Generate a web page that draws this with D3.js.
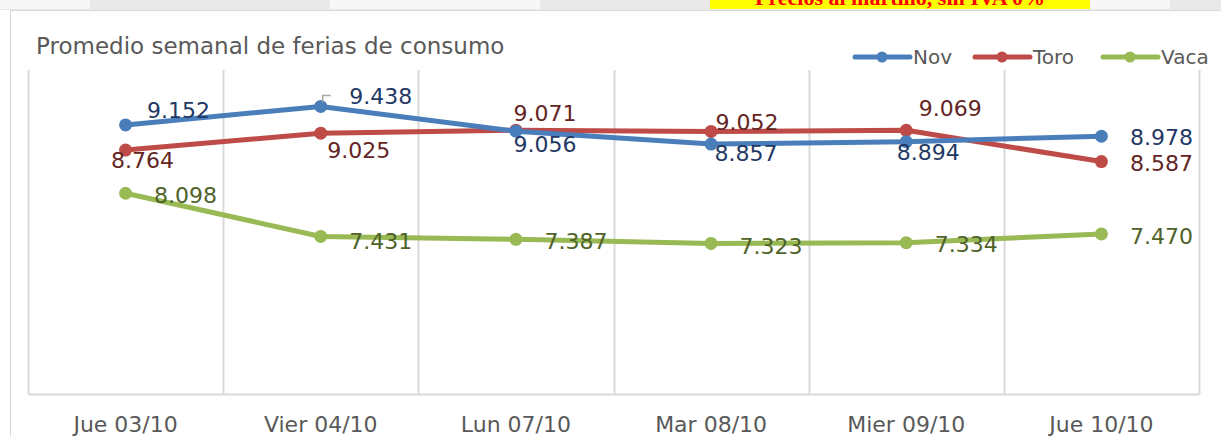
<!DOCTYPE html>
<html>
<head>
<meta charset="utf-8">
<title>Ferias de consumo</title>
<script src="https://d3js.org/d3.v7.min.js"></script>
<style>
  body { margin: 0; background: #fff; }
  svg text { font-family: "DejaVu Sans", sans-serif; }
  .tick line { display: none; }
</style>
</head>
<body>
<svg id="chart"></svg>
<script>
  // data
  var categories = ["Jue 03/10", "Vier 04/10", "Lun 07/10", "Mar 08/10", "Mier 09/10", "Jue 10/10"];
  var seriesNames = ["Nov", "Toro", "Vaca"];
  var nov  = [9.152, 9.438, 9.056, 8.857, 8.894, 8.978];
  var toro = [8.764, 9.025, 9.071, 9.052, 9.069, 8.587];
  var vaca = [8.098, 7.431, 7.387, 7.323, 7.334, 7.470];
  var yDomain = [5, 10];

  // label offsets from the point (dx, dy) - label placement only
  var novOff  = [[53, -14], [60, -10], [29, 13], [35, 9], [22, 11], [60, 1]];
  var toroOff = [[17, 10], [38, 17], [29, -17], [36, -9], [44, -22], [60, 2]];
  var vacaOff = [[60, 2], [60, 5], [60, 2], [60, 3], [60, 2], [60, 3]];

  var W = 1221, H = 436;
  var svg = d3.select("#chart").attr("width", W).attr("height", H);

  // scrap of the page above the chart
  svg.append("rect").attr("x", 0).attr("y", 0).attr("width", W).attr("height", 10).attr("fill", "#e9e9e9");
  [[0, 90], [330, 540], [910, 1170]].forEach(function (r) {
    svg.append("rect").attr("x", r[0]).attr("y", 0).attr("width", r[1] - r[0]).attr("height", 9).attr("fill", "#f7f7f7");
  });
  svg.append("rect").attr("x", 710).attr("y", 0).attr("width", 380).attr("height", 9).attr("fill", "#ffff00");
  svg.append("text").attr("x", 900).attr("y", 5).attr("text-anchor", "middle")
    .style("font-family", "'Liberation Serif', serif").style("font-weight", "bold")
    .style("font-size", "22px").attr("fill", "#ff0000")
    .text("Precios al martillo, sin IVA 0%");

  // chart box
  svg.append("rect").attr("x", 10.5).attr("y", 10.5).attr("width", W).attr("height", H)
    .attr("fill", "#fff").attr("stroke", "#d9d9d9");

  svg.append("text").attr("x", 36).attr("y", 54)
    .style("font-size", "23px").attr("fill", "#595959")
    .text("Promedio semanal de ferias de consumo");

  var margin = {left: 28, right: 22, top: 70, bottom: 42};
  var x = d3.scaleBand().domain(categories).range([margin.left, W - margin.right]);
  var y = d3.scaleLinear().domain(yDomain).range([H - margin.bottom, margin.top]);

  // vertical category gridlines
  var edges = categories.map(function (c) { return x(c); }).concat([x.range()[1]]);
  svg.selectAll(".vgrid").data(edges).enter().append("line")
    .attr("class", "vgrid")
    .attr("x1", function (d) { return Math.round(d) + 0.5; })
    .attr("x2", function (d) { return Math.round(d) + 0.5; })
    .attr("y1", y(yDomain[1])).attr("y2", y(yDomain[0]))
    .attr("stroke", "#d9d9d9").attr("stroke-width", 2);

  var xAxis = svg.append("g")
    .attr("transform", "translate(0," + y(yDomain[0]) + ")")
    .call(d3.axisBottom(x).tickSize(0).tickPadding(22));
  xAxis.select(".domain").attr("stroke", "#d9d9d9").attr("stroke-width", 2);
  xAxis.selectAll("text").style("font-size", "22px").attr("fill", "#595959")
    .style("font-family", "'DejaVu Sans', sans-serif");

  var series = [
    {name: seriesNames[0], values: nov,  off: novOff,  color: "#4a7ebb", label: "#1f3864"},
    {name: seriesNames[1], values: toro, off: toroOff, color: "#be4b48", label: "#632523"},
    {name: seriesNames[2], values: vaca, off: vacaOff, color: "#98b954", label: "#4f6228"}
  ];

  var cx = function (i) { return x(categories[i]) + x.bandwidth() / 2; };
  var line = d3.line().x(function (d, i) { return cx(i); }).y(function (d) { return y(d); });

  // draw green first so blue/red overlap like reference
  [series[2], series[1], series[0]].forEach(function (s) {
    svg.append("path").datum(s.values).attr("d", line)
      .attr("fill", "none").attr("stroke", s.color).attr("stroke-width", 5)
      .attr("stroke-linejoin", "round").attr("stroke-linecap", "round");
    svg.selectAll(null).data(s.values).enter().append("circle")
      .attr("cx", function (d, i) { return cx(i); })
      .attr("cy", function (d) { return y(d); })
      .attr("r", 6.5).attr("fill", s.color);
  });

  series.forEach(function (s) {
    svg.selectAll(null).data(s.values).enter().append("text")
      .attr("x", function (d, i) { return cx(i) + s.off[i][0]; })
      .attr("y", function (d, i) { return y(d) + s.off[i][1]; })
      .attr("text-anchor", "middle").attr("dominant-baseline", "central")
      .style("font-size", "22px").attr("fill", s.label)
      .text(function (d) { return d3.format(".3f")(d); });
  });

  // leader line for 9.438
  var lx = cx(1), ly = y(nov[1]);
  svg.append("path")
    .attr("d", "M" + (lx + 2) + "," + (ly - 4) + "V" + (ly - 11) + "H" + (lx + 10))
    .attr("fill", "none").attr("stroke", "#a6a6a6").attr("stroke-width", 1.5);

  // legend
  var legX = [855, 975, 1103];
  series.forEach(function (s, i) {
    var g = svg.append("g").attr("transform", "translate(" + legX[i] + ",57)");
    g.append("line").attr("x1", 0).attr("x2", 55).attr("stroke", s.color).attr("stroke-width", 5).attr("stroke-linecap", "round");
    g.append("circle").attr("cx", 27).attr("r", 5.5).attr("fill", s.color);
    g.append("text").attr("x", 58).attr("dominant-baseline", "central")
      .style("font-size", "20px").attr("fill", "#595959").text(s.name);
  });
</script>
</body>
</html>
